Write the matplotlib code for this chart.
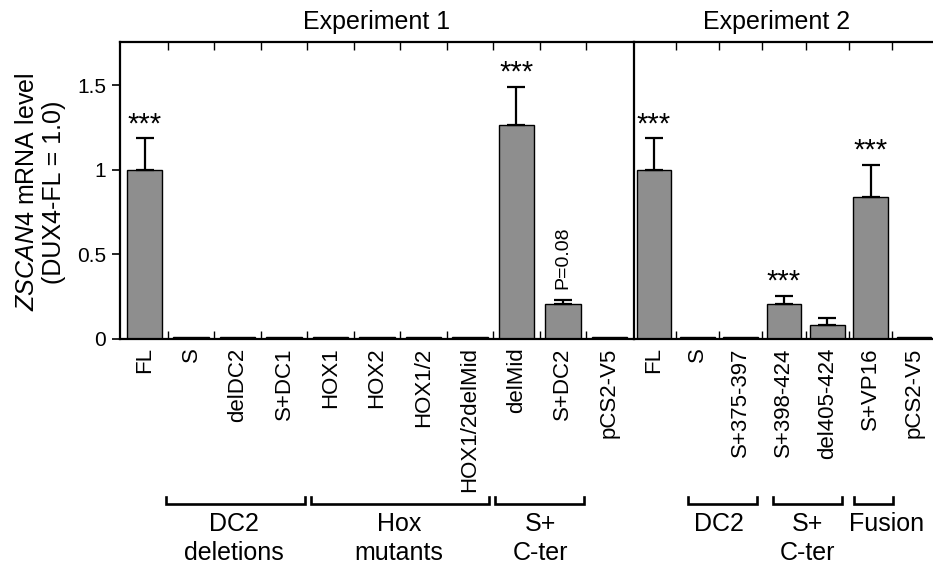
import matplotlib
matplotlib.use('Agg')
import matplotlib.pyplot as plt
import numpy as np

plt.rcParams['font.family'] = ['Liberation Sans', 'DejaVu Sans']
plt.rcParams['mathtext.fontset'] = 'custom'
plt.rcParams['mathtext.rm'] = 'Liberation Sans'
plt.rcParams['mathtext.it'] = 'Liberation Sans:italic'

# ---------------- data ----------------
exp1_labels = ["FL", "S", "delDC2", "S+DC1", "HOX1", "HOX2", "HOX1/2",
               "HOX1/2delMid", "delMid", "S+DC2", "pCS2-V5"]
exp1_values = [1.0, 0.01, 0.01, 0.01, 0.01, 0.01, 0.01, 0.01, 1.265, 0.205, 0.01]
exp1_err = [0.185, 0, 0, 0, 0, 0, 0, 0, 0.225, 0.025, 0]
exp1_annot = ["***", "", "", "", "", "", "", "", "***", "P=0.08", ""]

exp2_labels = ["FL", "S", "S+375-397", "S+398-424", "del405-424", "S+VP16", "pCS2-V5"]
exp2_values = [1.0, 0.01, 0.01, 0.207, 0.083, 0.84, 0.01]
exp2_err = [0.185, 0, 0, 0.047, 0.043, 0.188, 0]
exp2_annot = ["***", "", "", "***", "", "***", ""]

exp1_groups = ["DC2\ndeletions", "Hox\nmutants", "S+\nC-ter"]
exp2_groups = ["DC2", "S+\nC-ter", "Fusion"]

# bracket extents (category units) and label centres
exp1_brackets = [(0.46, 3.44), (3.59, 7.40), (7.53, 9.45)]
exp1_group_x = [1.92, 5.47, 8.52]
exp2_brackets = [(0.79, 2.38), (2.75, 4.34), (4.62, 5.52)]
exp2_group_x = [1.50, 3.55, 5.36]

titles = ["Experiment 1", "Experiment 2"]
yticks = [0, 0.5, 1, 1.5]
ytick_labels = ["0", "0.5", "1", "1.5"]

# ---------------- figure ----------------
W, H = 933, 568
fig = plt.figure(figsize=(W / 100, H / 100), dpi=100)

def fx(px):
    return px / W

def fy(px):
    return 1 - px / H

top_px, bot_px = 42, 339
ax1 = fig.add_axes([fx(120), fy(bot_px), fx(634 - 120), (bot_px - top_px) / H])
ax2 = fig.add_axes([fx(634), fy(bot_px), fx(933 - 634), (bot_px - top_px) / H])

bar_color = '#8e8e8e'

def draw(ax, labels, values, err, annots, width, xlim, groups, brackets, gx, title, title_x):
    n = len(labels)
    x = np.arange(n)
    ax.bar(x, values, width=width, color=bar_color, edgecolor='black', linewidth=1.0, zorder=2)
    for xi, v, e in zip(x, values, err):
        if e > 0:
            ax.errorbar(xi, v, yerr=[[0], [e]], fmt='none', ecolor='black',
                        elinewidth=1.6, capsize=6.5, capthick=1.6, zorder=3)
    for xi, v, e, a in zip(x, values, err, annots):
        if a == "***":
            ax.annotate(a, (xi, v + e), xytext=(0, 0), textcoords='offset points',
                        ha='center', va='bottom', fontsize=21)
        elif a:
            ax.annotate(a, (xi, v + e), xytext=(0, 8), textcoords='offset points',
                        ha='center', va='bottom', fontsize=14, rotation=90)
    ax.set_xlim(*xlim)
    ax.set_ylim(0, 1.755)
    ax.set_xticks(np.arange(n - 1) + 0.5)
    ax.set_xticklabels([])
    ax.set_xticks(x, minor=True)
    ax.set_xticklabels(labels, minor=True, rotation=90, fontsize=16)
    ax.tick_params(axis='x', which='major', direction='in', top=True, bottom=True,
                   length=6, width=1.0)
    ax.tick_params(axis='x', which='minor', length=0, pad=6)
    for s in ax.spines.values():
        s.set_linewidth(1.6)
    tr = ax.get_xaxis_transform()
    yb = (bot_px - 504) / (bot_px - top_px)
    yt = (bot_px - 496.5) / (bot_px - top_px)
    ytxt = (bot_px - 512) / (bot_px - top_px)
    for (x0, x1), name, cx in zip(brackets, groups, gx):
        ax.plot([x0, x0, x1, x1], [yt, yb, yb, yt], transform=tr, clip_on=False,
                color='black', lw=1.9, solid_joinstyle='miter')
        ax.text(cx, ytxt, name, transform=tr, ha='center', va='top', fontsize=18,
                linespacing=1.25)
    ax.text(title_x, 1.0 + 8 / (bot_px - top_px), title, transform=tr, ha='center',
            va='bottom', fontsize=18)

draw(ax1, exp1_labels, exp1_values, exp1_err, exp1_annot, 0.76, (-0.53, 10.53),
     exp1_groups, exp1_brackets, exp1_group_x, titles[0], 5.0)
draw(ax2, exp2_labels, exp2_values, exp2_err, exp2_annot, 0.8, (-0.46, 6.44),
     exp2_groups, exp2_brackets, exp2_group_x, titles[1], 2.82)

ax1.spines['right'].set_visible(False)
ax2.spines['right'].set_visible(False)
ax1.set_yticks(yticks)
ax1.set_yticklabels(ytick_labels, fontsize=15)
ax1.tick_params(axis='y', direction='out', length=6, width=1.2, pad=4)
ax2.set_yticks([])
ax2.tick_params(axis='y', left=False, labelleft=False)

fig.text(fx(66), fy(192), "$\\mathit{ZSCAN4}$ mRNA level\n(DUX4-FL = 1.0)",
         rotation=90, rotation_mode='anchor', ha='center', va='bottom',
         multialignment='center', fontsize=18, linespacing=1.15)

fig.savefig('out.png', dpi=100)
